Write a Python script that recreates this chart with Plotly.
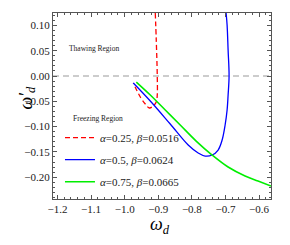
import plotly.graph_objects as go

# Data
red_x = [-0.9089, -0.906, -0.903, -0.903, -0.906, -0.9149, -0.9268, -0.9386, -0.9535, -0.9743]
red_y = [0.1245, 0.0711, 0.0, -0.0375, -0.0514, -0.0593, -0.0632, -0.0553, -0.0415, -0.0138]

blue_x = [-0.9743, -0.9238, -0.8644, -0.8109, -0.7812, -0.7604, -0.7397, -0.7218, -0.7099, -0.7010,
          -0.6951, -0.6921, -0.6892, -0.6921, -0.6951, -0.6981]
blue_y = [-0.0138, -0.0494, -0.0949, -0.1364, -0.1522, -0.1581, -0.1561, -0.1462, -0.1265,
          -0.0968, -0.0672, -0.0375, 0.0, 0.0514, 0.1008, 0.1245]

green_x = [-0.9654, -0.9238, -0.8792, -0.8347, -0.7872, -0.7397, -0.6921, -0.6416, -0.603, -0.5644]
green_y = [-0.0119, -0.0375, -0.0672, -0.0968, -0.1285, -0.1561, -0.1798, -0.1976, -0.2075, -0.2174]

series_names = ["<i>α</i>=0.25, <i>β</i>=0.0516",
                "<i>α</i>=0.5, <i>β</i>=0.0624",
                "<i>α</i>=0.75, <i>β</i>=0.0665"]

x_range = [-1.2134, -0.5644]
y_range = [-0.243, 0.1245]

x_ticks = [-1.2, -1.1, -1.0, -0.9, -0.8, -0.7, -0.6]
y_ticks = [-0.20, -0.15, -0.10, -0.05, 0.00, 0.05, 0.10]

region_labels = ["Thawing Region", "Freezing Region"]
region_x = [-1.090, -1.078]
region_y = [0.0534, -0.083]

x_title = "<i>ω<sub>d</sub></i>"
y_title = "<i>ω′<sub>d</sub></i>"

font_family = "Liberation Serif, Times New Roman, serif"

fig = go.Figure()

# zero reference line
fig.add_trace(go.Scatter(x=x_range, y=[0, 0], mode="lines",
                         line=dict(color="#999999", width=1, dash="6px,4px"),
                         showlegend=False, hoverinfo="skip"))

fig.add_trace(go.Scatter(x=red_x, y=red_y, mode="lines", name=series_names[0], legendgroup="a",
                         line=dict(color="#ff0000", width=1.3, dash="5px,3px", shape="spline")))
fig.add_trace(go.Scatter(x=blue_x, y=blue_y, mode="lines", name=series_names[1], legendgroup="b",
                         line=dict(color="#0000ff", width=1.3, shape="spline")))
fig.add_trace(go.Scatter(x=green_x, y=green_y, mode="lines", name=series_names[2], legendgroup="c",
                         line=dict(color="#00ee00", width=1.6, shape="spline")))

for t, xx, yy in zip(region_labels, region_x, region_y):
    fig.add_annotation(x=xx, y=yy, text=t, showarrow=False,
                       font=dict(family=font_family, size=7.5, color="#222222"))

# axis titles as paper annotations
fig.add_annotation(x=0.491, y=-0.215, xref="paper", yref="paper", text=x_title,
                   showarrow=False, font=dict(family=font_family, size=18, color="#000000"))
fig.add_annotation(x=-0.183, y=0.543, xref="paper", yref="paper", text=y_title, textangle=-90,
                   showarrow=False, font=dict(family=font_family, size=18, color="#000000"))

axis_common = dict(
    showline=True, linecolor="#555555", linewidth=1, mirror="allticks",
    ticks="inside", ticklen=4, tickcolor="#555555", tickwidth=1,
    showgrid=False, zeroline=False, automargin=False,
    tickfont=dict(family=font_family, size=11, color="#222222"),
)

fig.update_xaxes(range=x_range, tickvals=x_ticks, tickformat=".1f",
                 minor=dict(ticks="inside", ticklen=2, tickcolor="#555555", dtick=0.02),
                 **axis_common)
fig.update_yaxes(range=y_range, tickvals=y_ticks, tickformat=".2f",
                 minor=dict(ticks="inside", ticklen=2, tickcolor="#555555", dtick=0.01),
                 **axis_common)

fig.update_layout(
    width=290, height=245,
    margin=dict(l=45, r=27, t=5, b=54),
    plot_bgcolor="white", paper_bgcolor="white",
    legend=dict(x=0.032, y=0.015, xanchor="left", yanchor="bottom",
                bgcolor="rgba(0,0,0,0)", borderwidth=0,
                font=dict(family=font_family, size=11, color="#222222"),
                tracegroupgap=3, itemwidth=30),
)

fig.write_html("out.html")
